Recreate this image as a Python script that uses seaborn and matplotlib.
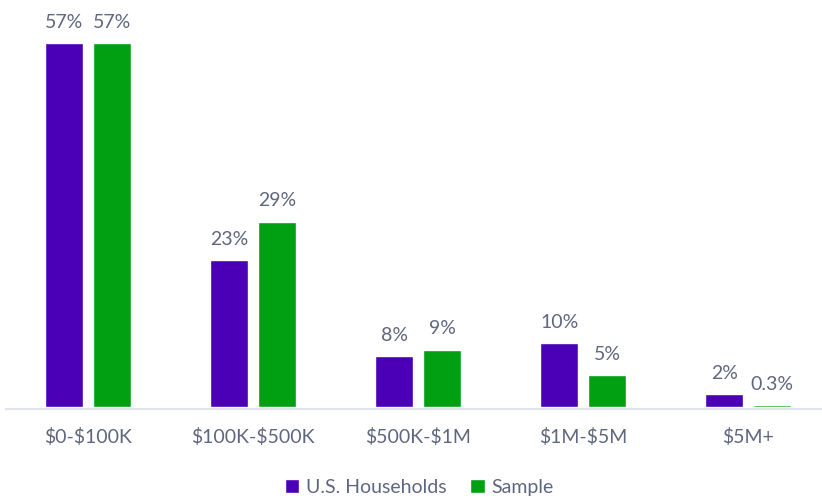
import numpy as np
import pandas as pd
import seaborn as sns
import matplotlib.pyplot as plt

categories = ['$0-$100K', '$100K-$500K', '$500K-$1M', '$1M-$5M', '$5M+']
households = [57, 23, 8, 10, 2]
sample = [57, 29, 9, 5, 0.3]
households_labels = ['57%', '23%', '8%', '10%', '2%']
sample_labels = ['57%', '29%', '9%', '5%', '0.3%']
series = ['U.S. Households', 'Sample']

df = pd.DataFrame({
    'bracket': categories * 2,
    'share': households + sample,
    'group': [series[0]] * 5 + [series[1]] * 5,
})

sns.set_style('white')
plt.rcParams['font.family'] = ['Lato', 'DejaVu Sans']
plt.rcParams['text.parse_math'] = False  # keep the $ signs literal
text_color = '#5F6680'

fig = plt.figure(figsize=(8.22, 4.98), dpi=100)
ax = fig.add_axes([6 / 822, 89 / 498, 816 / 822, 383 / 498])

sns.barplot(data=df, x='bracket', y='share', hue='group', order=categories,
            hue_order=series, palette=['#4B00B8', '#00A012'],
            width=0.58, gap=0.21, saturation=1, legend=True, ax=ax)

for cont, labs in zip(ax.containers, [households_labels, sample_labels]):
    ax.bar_label(cont, labels=labs, padding=9, color=text_color, fontsize=14)

ax.set_xlim(-0.497, 4.448)
ax.set_ylim(-0.3, 59.7)
ax.set_xlabel('')
ax.set_ylabel('')
ax.set_yticks([])
ax.tick_params(axis='x', length=0, pad=14, labelsize=14, labelcolor=text_color)
for side in ['left', 'right', 'top']:
    ax.spines[side].set_visible(False)
ax.spines['bottom'].set_color('#E0E3EA')
ax.spines['bottom'].set_linewidth(1.5)

handles, labels = ax.get_legend_handles_labels()
ax.get_legend().remove()
fig.legend(handles, labels, loc='center', bbox_to_anchor=(0.51, 0.022), ncol=2,
           frameon=False, handlelength=0.75, handleheight=0.75, handletextpad=0.35,
           columnspacing=1.2, fontsize=14, labelcolor=text_color)

fig.savefig('out.png', dpi=100)
